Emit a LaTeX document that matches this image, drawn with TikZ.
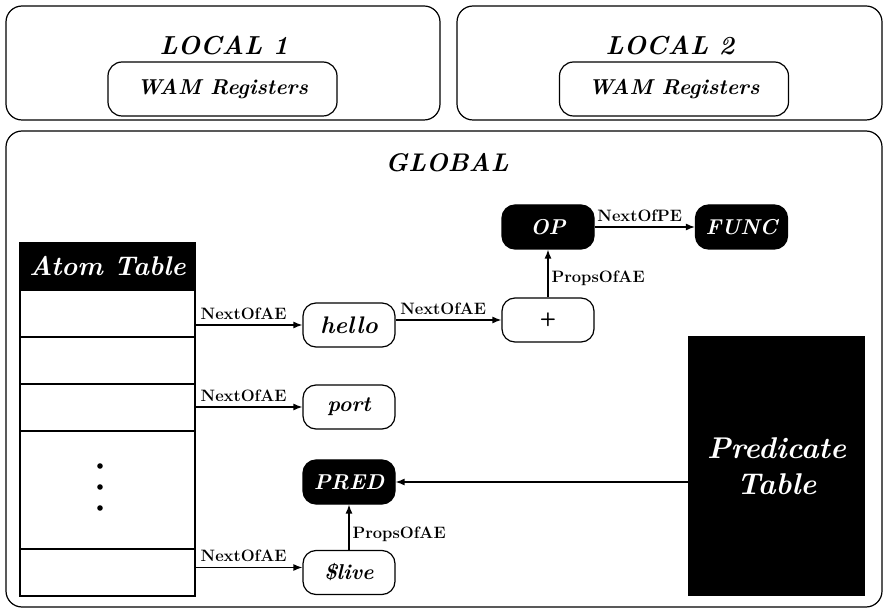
\documentclass[tikz,border=0pt]{standalone}
\usepackage{fontspec}
\setmainfont{Latin Modern Roman}
\usetikzlibrary{arrows.meta}
\begin{document}
\begin{tikzpicture}[x=1pt,y=-1pt,
  frame/.style={draw,line width=1.2pt,rounded corners=16pt},
  title/.style={font=\fontsize{26}{28}\selectfont\bfseries\itshape},
  wam/.style={draw,line width=1.2pt,rounded corners=14pt,minimum width=229pt,minimum height=54pt,font=\fontsize{21.5}{24}\selectfont\bfseries\itshape},
  wnode/.style={draw,line width=1.2pt,rounded corners=13pt,minimum width=92pt,minimum height=44pt,font=\fontsize{21.5}{24}\selectfont\bfseries\itshape},
  bnode/.style={wnode,fill=black,text=white},
  cell/.style={draw,line width=1.2pt,minimum width=175pt,inner sep=0pt},
  arr/.style={-{Latex[length=9pt,width=7pt]},line width=1.3pt},
  lbl/.style={font=\fontsize{16.5}{18}\selectfont\bfseries,inner sep=5pt}]
\useasboundingbox (0,0) rectangle (887,612);
% locals
\node[frame,minimum width=434pt,minimum height=114pt] (l1) at (223,63) {};
\node[frame,minimum width=425pt,minimum height=114pt] (l2) at (669.5,63) {};
\node[title] (l1t) at (224,45) {LOCAL 1};
\node[title] (l2t) at (670,45) {LOCAL 2};
\node[wam] (w1) at (222.5,89) {WAM Registers};
\node[wam] (w2) at (674,89) {WAM Registers};
% global
\node[frame,minimum width=876pt,minimum height=476pt] (g) at (444,369) {};
\node[title,font=\fontsize{25.5}{28}\selectfont\bfseries\itshape] (gt) at (447,163) {GLOBAL};
% atom table
\node[cell,fill=black,text=white,minimum height=47pt,font=\fontsize{27}{30}\selectfont\bfseries\itshape] (ath) at (107.5,266.5) {Atom Table};
\node[cell,minimum height=47pt] (r1) at (107.5,313.5) {};
\node[cell,minimum height=47pt] (r2) at (107.5,360.5) {};
\node[cell,minimum height=47pt] (r3) at (107.5,407.5) {};
\node[cell,minimum height=118pt] (r4) at (107.5,490) {};
\node[cell,minimum height=47pt] (r5) at (107.5,572.5) {};
\fill (100,466) circle (2.8pt) (100,487) circle (2.8pt) (100,508) circle (2.8pt);
% nodes
\node[wnode,font=\fontsize{24}{26}\selectfont\bfseries\itshape] (hello) at (349,325) {hello};
\node[wnode,font=\fontsize{19}{22}\selectfont\sffamily\bfseries] (plus) at (548,320) {+};
\node[bnode] (op) at (548,227) {OP};
\node[bnode] (func) at (741.5,227) {FUNC};
\node[wnode] (port) at (349,407) {port};
\node[bnode] (pred) at (349,482) {PRED};
\node[wnode] (live) at (349,572.5) {\$live};
\node[fill=black,text=white,minimum width=177pt,minimum height=260pt,align=center,font=\fontsize{30}{36}\selectfont\bfseries\itshape] (pt) at (776.5,466) {Predicate\\Table};
% connectors
\draw[arr] (r1.east |- hello.west) -- node[lbl,above,pos=0.45] {NextOfAE} (hello.west);
\draw[arr] (hello.east |- plus.west) -- node[lbl,above,pos=0.45] {NextOfAE} (plus.west);
\draw[arr] (plus.north) -- node[lbl,right,pos=0.4,inner sep=3pt] {PropsOfAE} (op.south);
\draw[arr] (op.east) -- node[lbl,above,pos=0.45] {NextOfPE} (func.west);
\draw[arr] (r3.east |- port.west) -- node[lbl,above,pos=0.45] {NextOfAE} (port.west);
\draw[arr] ([yshift=5pt]r5.east |- live.west) -- node[lbl,above,pos=0.45] {NextOfAE} ([yshift=5pt]live.west);
\draw[arr] (live.north) -- node[lbl,right,pos=0.35,inner sep=3pt] {PropsOfAE} (pred.south);
\draw[arr] (pt.west |- pred.east) -- (pred.east);
\end{tikzpicture}
\end{document}
